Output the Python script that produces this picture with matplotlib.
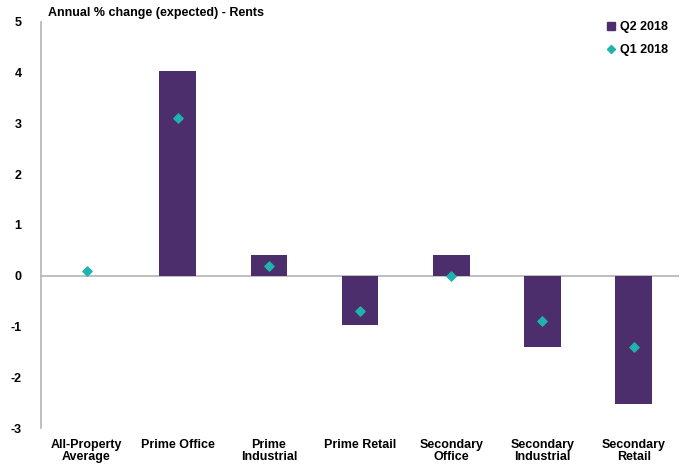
import matplotlib.pyplot as plt
import numpy as np

categories = ["All-Property\nAverage", "Prime Office", "Prime\nIndustrial", "Prime Retail",
              "Secondary\nOffice", "Secondary\nIndustrial", "Secondary\nRetail"]
q2_2018 = [0.0, 4.03, 0.4, -0.98, 0.4, -1.4, -2.52]
q1_2018 = [0.1, 3.1, 0.2, -0.7, 0.0, -0.9, -1.4]

BAR_COLOR = "#4b2e6b"
DOT_COLOR = "#1fb3ad"

plt.rcParams["font.family"] = ["Liberation Sans", "DejaVu Sans"]
plt.rcParams["font.weight"] = "bold"
plt.rcParams["axes.unicode_minus"] = False

fig = plt.figure(figsize=(6.82, 4.67), dpi=100)
ax = fig.add_axes([0.06, 0.0835, 0.936, 0.8695])

x = np.arange(len(categories))
ax.bar(x, q2_2018, 0.4, color=BAR_COLOR, label="Q2 2018", zorder=2)
ax.scatter(x, q1_2018, marker="D", s=22, color=DOT_COLOR, label="Q1 2018", zorder=3)

ax.set_xlim(-0.5, len(categories) - 0.5)
ax.set_ylim(-3, 5)
ax.set_yticks(range(-3, 6))
ax.set_xticks(x)
ax.set_xticklabels(categories, fontsize=9, fontweight="bold", linespacing=1.0)
ax.tick_params(axis="y", labelsize=9, length=0, pad=14)
ax.tick_params(axis="x", length=0, pad=8)
for lab in ax.get_yticklabels():
    lab.set_fontweight("bold")

for s in ["top", "right", "bottom"]:
    ax.spines[s].set_visible(False)
ax.spines["left"].set_color("#b4b4b4")
ax.spines["left"].set_linewidth(1.2)
ax.axhline(0, color="#b4b4b4", linewidth=1.2, zorder=1)

fig.text(0.07, 0.973, "Annual % change (expected) - Rents", fontsize=9,
         fontweight="bold", va="center", ha="left")

sq = plt.Line2D([], [], marker="s", linestyle="", color=BAR_COLOR, markersize=6)
dm = plt.Line2D([], [], marker="D", linestyle="", color=DOT_COLOR, markersize=4.5)
leg = ax.legend([sq, dm], ["Q2 2018", "Q1 2018"], loc="upper right",
                bbox_to_anchor=(1.0, 1.03), frameon=False, fontsize=9,
                handlelength=0.8, handletextpad=0.3, labelspacing=0.9)
for t in leg.get_texts():
    t.set_fontweight("bold")

fig.savefig("out.png", dpi=100)
